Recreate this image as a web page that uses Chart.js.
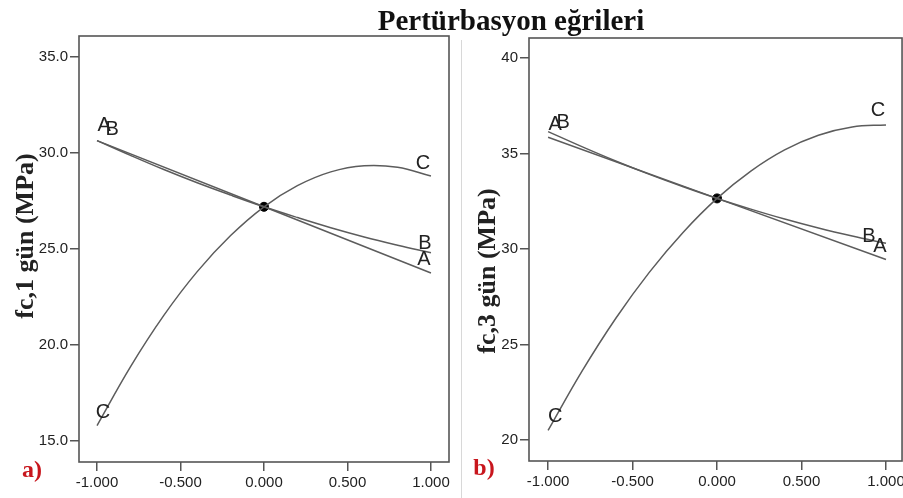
<!DOCTYPE html>
<html>
<head>
<meta charset="utf-8">
<script src="https://cdn.jsdelivr.net/npm/chart.js@4.4.0/dist/chart.umd.min.js"></script>
<style>
  html, body { margin: 0; padding: 0; background: #fff; }
  body { width: 903px; height: 498px; position: relative; overflow: hidden; }
  .panel { position: absolute; top: 0; height: 498px; }
  #panelA { left: 0; width: 460px; }
  #panelB { left: 460px; width: 448px; }
  .title {
    position: absolute; left: 511px; top: 6px; transform: translateX(-50%);
    font: bold 29px "Liberation Serif", serif; line-height: 28px; white-space: nowrap; color: #111;
  }
  .ytitle {
    position: absolute; transform: translate(-50%, -50%) rotate(-90deg);
    font: bold 26px "Liberation Serif", serif; white-space: nowrap; color: #222;
  }
  .tag {
    position: absolute; transform: translate(-50%, -50%);
    font: bold 24px "Liberation Serif", serif; color: #c8161d;
  }
  .sep { position: absolute; left: 461px; top: 40px; width: 1px; height: 458px; background: #d8d8d8; }
</style>
</head>
<body>
<div class="sep"></div>
<div class="panel" id="panelA"><canvas id="chartA"></canvas></div>
<div class="panel" id="panelB"><canvas id="chartB"></canvas></div>
<div class="title">Pertürbasyon eğrileri</div>
<div class="ytitle" style="left:25px; top:236px;">fc,1 gün (MPa)</div>
<div class="ytitle" style="left:487px; top:271px;">fc,3 gün (MPa)</div>
<div class="tag" style="left:32px; top:469px;">a)</div>
<div class="tag" style="left:484px; top:467px;">b)</div>
<script>
// shared x axis (coded factor levels)
const xTicks = [-1, -0.5, 0, 0.5, 1];
const xTickLabels = ['-1.000', '-0.500', '0.000', '0.500', '1.000'];
const xLine = [-1, 0, 1];
const xCurve = [-1, -0.8, -0.6, -0.4, -0.2, 0, 0.2, 0.4, 0.6, 0.8, 1];

// panel a) fc,1 gün
const yTicksA = [15, 20, 25, 30, 35];
const yTickLabelsA = ['15.0', '20.0', '25.0', '30.0', '35.0'];
const seriesA_A = [30.65, 27.2, 23.75];
const seriesA_B = [30.65, 29.88, 29.14, 28.45, 27.81, 27.2, 26.64, 26.11, 25.63, 25.2, 24.8];
const seriesA_C = [15.8, 18.86, 21.54, 23.82, 25.7, 27.2, 28.3, 29.02, 29.34, 29.26, 28.8];
const centerA = 27.2;
const labelsA = [
    { text: 'A', x: -0.958, y: 31.46 },
    { text: 'B', x: -0.91, y: 31.25 },
    { text: 'C', x: 0.952, y: 29.48 },
    { text: 'B', x: 0.964, y: 25.31 },
    { text: 'A', x: 0.958, y: 24.43 },
    { text: 'C', x: -0.964, y: 16.46 },
];

// panel b) fc,3 gün
const yTicksB = [20, 25, 30, 35, 40];
const yTickLabelsB = ['20', '25', '30', '35', '40'];
const seriesB_A = [35.85, 32.65, 29.45];
const seriesB_B = [36.15, 35.36, 34.61, 33.91, 33.26, 32.65, 32.09, 31.57, 31.1, 30.68, 30.3];
const seriesB_C = [20.5, 23.59, 26.36, 28.79, 30.88, 32.65, 34.08, 35.19, 35.96, 36.39, 36.5];
const centerB = 32.65;
const labelsB = [
    { text: 'A', x: -0.958, y: 36.5 },
    { text: 'B', x: -0.911, y: 36.61 },
    { text: 'C', x: 0.952, y: 37.23 },
    { text: 'B', x: 0.899, y: 30.65 },
    { text: 'A', x: 0.964, y: 30.13 },
    { text: 'C', x: -0.958, y: 21.25 },
];

const LINE = '#5c5c5c';
const FRAME = '#555555';
const tickFont = { family: 'Liberation Sans', size: 15 };

const toPoints = (xs, ys) => xs.map((x, i) => ({ x, y: ys[i] }));

const framePlugin = {
    id: 'frame',
    afterDraw(chart) {
        const { ctx, chartArea: a } = chart;
        ctx.save();
        ctx.strokeStyle = FRAME;
        ctx.lineWidth = 1.6;
        ctx.strokeRect(a.left, a.top, a.right - a.left, a.bottom - a.top);
        ctx.restore();
    },
};

const curveLabels = {
    id: 'curveLabels',
    afterDatasetsDraw(chart, args, opts) {
        const { ctx, scales } = chart;
        ctx.save();
        ctx.font = '20px "Liberation Sans"';
        ctx.fillStyle = '#222';
        ctx.textAlign = 'center';
        ctx.textBaseline = 'middle';
        opts.items.forEach(l => {
            ctx.fillText(l.text, scales.x.getPixelForValue(l.x), scales.y.getPixelForValue(l.y));
        });
        ctx.restore();
    },
};

function makePanel(canvasId, p) {
    const lineStyle = {
        showLine: true,
        borderColor: LINE,
        borderWidth: 1.5,
        pointRadius: 0,
        tension: 0.4,
    };
    return new Chart(document.getElementById(canvasId), {
        type: 'scatter',
        data: {
            datasets: [
                { label: 'A', data: toPoints(xLine, p.a), ...lineStyle, tension: 0 },
                { label: 'B', data: toPoints(xCurve, p.b), ...lineStyle },
                { label: 'C', data: toPoints(xCurve, p.c), ...lineStyle },
                { label: 'center', data: [{ x: 0, y: p.center }], pointRadius: 4.5, backgroundColor: '#000', borderColor: '#000' },
            ],
        },
        options: {
            responsive: true,
            maintainAspectRatio: false,
            animation: false,
            layout: { padding: { top: p.top, right: p.right, left: 0, bottom: 0 } },
            plugins: {
                legend: { display: false },
                tooltip: { enabled: false },
                curveLabels: { items: p.labels },
            },
            scales: {
                x: {
                    type: 'linear',
                    min: p.xMin,
                    max: p.xMax,
                    afterBuildTicks: s => { s.ticks = xTicks.map(v => ({ value: v })); },
                    afterFit: s => { s.height = p.xAxisH; },
                    ticks: {
                        callback: v => xTickLabels[xTicks.indexOf(v)],
                        font: tickFont,
                        color: '#222',
                        padding: 3,
                        maxRotation: 0,
                        autoSkip: false,
                    },
                    grid: { drawOnChartArea: false, drawTicks: true, tickLength: 9, color: FRAME, lineWidth: 1.5 },
                    border: { display: false },
                },
                y: {
                    type: 'linear',
                    min: p.yMin,
                    max: p.yMax,
                    afterBuildTicks: s => { s.ticks = p.yTicks.map(v => ({ value: v })); },
                    afterFit: s => { s.width = p.yAxisW; },
                    ticks: {
                        callback: v => p.yTickLabels[p.yTicks.indexOf(v)],
                        font: tickFont,
                        color: '#222',
                        padding: 2,
                    },
                    grid: { drawOnChartArea: false, drawTicks: true, tickLength: 9, color: FRAME, lineWidth: 1.5 },
                    border: { display: false },
                },
            },
        },
        plugins: [framePlugin, curveLabels],
    });
}

makePanel('chartA', {
    a: seriesA_A, b: seriesA_B, c: seriesA_C, center: centerA, labels: labelsA,
    yTicks: yTicksA, yTickLabels: yTickLabelsA,
    xMin: -1.108, xMax: 1.108, yMin: 13.9, yMax: 36.1,
    top: 36, right: 11, yAxisW: 79, xAxisH: 36,
});

makePanel('chartB', {
    a: seriesB_A, b: seriesB_B, c: seriesB_C, center: centerB, labels: labelsB,
    yTicks: yTicksB, yTickLabels: yTickLabelsB,
    xMin: -1.113, xMax: 1.095, yMin: 18.9, yMax: 41.05,
    top: 38, right: 1, yAxisW: 69, xAxisH: 37,
});
</script>
</body>
</html>
